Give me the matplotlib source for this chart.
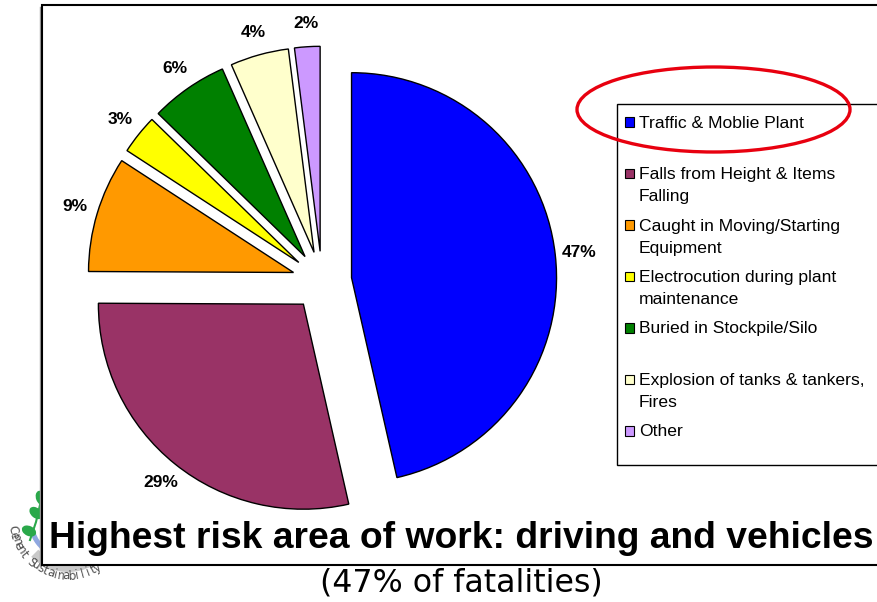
import numpy as np
import matplotlib
matplotlib.use("Agg")
import matplotlib.pyplot as plt
from matplotlib.patches import Rectangle, Ellipse, Wedge

plt.rcParams['font.family'] = ['Liberation Sans', 'DejaVu Sans']

# ---- data ----
categories = ["Traffic & Moblie Plant",
              "Falls from Height & Items\nFalling",
              "Caught in Moving/Starting\nEquipment",
              "Electrocution during plant\nmaintenance",
              "Buried in Stockpile/Silo",
              "Explosion of tanks & tankers,\nFires",
              "Other"]
values = [46.4, 28.6, 9.1, 3.1, 6.1, 4.6, 2.0]
pct_labels = ["47%", "29%", "9%", "3%", "6%", "4%", "2%"]
colors = ["#0000FF", "#993366", "#FF9900", "#FFFF00", "#008000", "#FFFFCC", "#CC99FF"]
title = "Highest risk area of work: driving and vehicles"
subtitle = "(47% of fatalities)"
logo_text = "Cement Sustainability"

W, H = 878, 602
fig = plt.figure(figsize=(W / 100, H / 100), dpi=100)

# background / overlay axes in pixel coordinates (y grows downward)
bg = fig.add_axes([0, 0, 1, 1])
bg.set_xlim(0, W)
bg.set_ylim(H, 0)
bg.axis('off')

# --- logo (partially hidden behind frame) ---
lc = (68, 520)
# angles are mirrored because the y axis is inverted
bg.add_patch(Wedge(lc, 52, 30, 135, width=10, facecolor="#c9c9c9", edgecolor="none", zorder=1))
bg.add_patch(Wedge(lc, 40, 120, 165, width=5, facecolor="#8fa8e0", edgecolor="none", zorder=1.1))
bg.plot([30, 36, 40, 44], [540, 522, 505, 490], color="#2aa84a", lw=1.5, zorder=1.15)
for (lx, ly, ang) in [(29, 531, 25), (36, 513, 40), (41, 498, 70)]:
    bg.add_patch(Ellipse((lx, ly), 15, 10, angle=ang, facecolor="#2aa84a", edgecolor="none", zorder=1.2))
r_txt = 56
for k, ch in enumerate(logo_text):
    a = 190 + 5.6 * k
    ar = np.deg2rad(a)
    x = lc[0] + r_txt * np.cos(ar)
    y = lc[1] - r_txt * np.sin(ar)
    bg.text(x, y, ch, fontsize=8.5, color="#505050", ha='center', va='center',
            rotation=a + 90, zorder=1.3, family='DejaVu Sans')

# --- outer frame ---
bg.plot([40.5, 40.5], [7, 566], color="#999999", lw=1.0, zorder=1.9)
bg.add_patch(Rectangle((42, 5), 900, 560, facecolor="white", edgecolor="black", lw=1.5, zorder=2))

# --- legend box ---
bg.add_patch(Rectangle((617, 104), 300, 361, facecolor="white", edgecolor="black", lw=1.0, zorder=3))
leg_y0, leg_dy, line_dy = 122, 51.5, 22
for i, (cat, col) in enumerate(zip(categories, colors)):
    yy = leg_y0 + i * leg_dy
    bg.add_patch(Rectangle((625, yy - 4.6), 9.2, 9.2, facecolor=col, edgecolor="black", lw=0.8, zorder=4))
    for j, line in enumerate(cat.split("\n")):
        bg.text(639, yy + 5.5 + j * line_dy, line, fontsize=12.6, ha='left', va='baseline', zorder=4)

# --- red ellipse ---
bg.add_patch(Ellipse((713.5, 109.5), 273, 85, fill=False, edgecolor="#E8000F", lw=2.4, zorder=6))

# --- titles ---
bg.text(461, 548, title, fontsize=26.8, fontweight='bold', ha='center', va='baseline', zorder=7)
bg.text(461.5, 592, subtitle, fontsize=22.8, ha='center', va='baseline', zorder=7, family='DejaVu Sans')

# --- pie ---
R = 205.0
cx, cy = 322.0, 281.0
ax = fig.add_axes([0, 0, 1, 1], zorder=5)
ax.patch.set_alpha(0)
wedges, texts = ax.pie(values, colors=colors, labels=pct_labels, startangle=90, counterclock=False,
                       explode=[0.145] * len(values), labeldistance=1.115,
                       wedgeprops=dict(edgecolor="black", linewidth=1.0),
                       textprops=dict(fontsize=12.5, fontweight='bold'))
for t in texts:
    t.set_ha('center')
    t.set_va('center')
ax.set_aspect('auto')
ax.set_xlim(-cx / R, (W - cx) / R)
ax.set_ylim(-(H - cy) / R, cy / R)
ax.axis('off')

fig.savefig("out.png", dpi=100)
